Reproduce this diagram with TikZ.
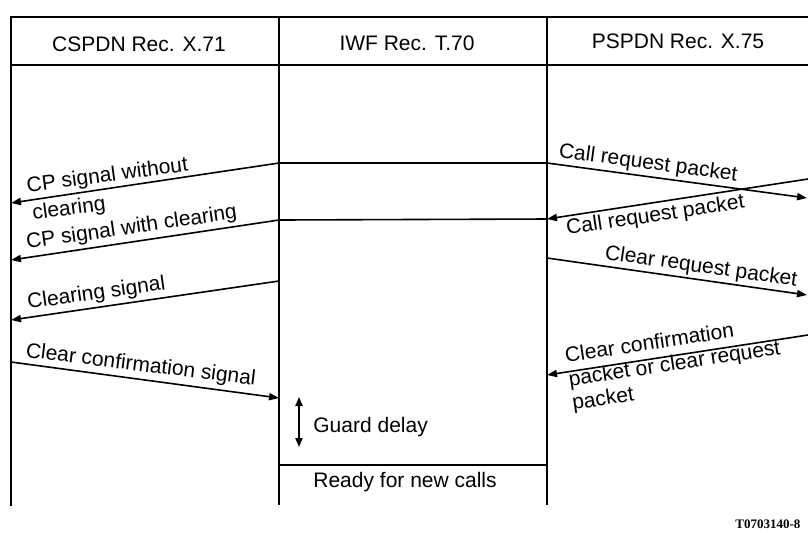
\documentclass[tikz,border=0pt]{standalone}
\usepackage{fontspec}
\setmainfont{Liberation Sans}
\newfontfamily\codefont{Liberation Serif}
\usetikzlibrary{arrows.meta}
\begin{document}
\begin{tikzpicture}[x=0.5pt,y=-0.5pt,
  frame/.style={line width=1.2pt},
  link/.style={line width=0.8pt},
  msg/.style={line width=0.8pt,-{Triangle[length=5pt,width=3.6pt]}},
  guard/.style={line width=0.8pt,{Triangle[length=4.5pt,width=3.6pt]}-{Triangle[length=4.5pt,width=3.6pt]}},
  lbl/.style={inner sep=0pt,font=\fontsize{10.5}{12}\selectfont,align=left},
  head/.style={inner sep=0pt,font=\fontsize{10.5}{12}\selectfont},
]
\useasboundingbox (0,0) rectangle (808,532);
% frame
\coordinate (TL) at (10,17);  \coordinate (TR) at (808,17);
\coordinate (HL) at (10,65);  \coordinate (HR) at (808,65);
\coordinate (Lt) at (11,17);  \coordinate (Lb) at (11,506);
\coordinate (Mt) at (279,17); \coordinate (Mb) at (279,505);
\coordinate (Rt) at (547,17); \coordinate (Rb) at (547,505);
\draw[frame] (TL) -- (TR);
\draw[frame] (HL) -- (HR);
\draw[frame] (Lt) -- (Lb);
\draw[frame] (Mt) -- (Mb);
\draw[frame] (Rt) -- (Rb);
% headers
\node[head,anchor=base] (h1) at (139,51) {CSPDN Rec. X.71};
\node[head,anchor=base] (h2) at (407,50) {IWF Rec. T.70};
\node[head,anchor=base] (h3) at (678,48) {PSPDN Rec. X.75};
% message points
\coordinate (m1) at (279,163); \coordinate (l1) at (11,203);
\coordinate (r1) at (547,163); \coordinate (e1) at (807,198);
\coordinate (e2) at (808,179); \coordinate (r2) at (547,219);
\coordinate (m2) at (279,220); \coordinate (l2) at (11,260);
\coordinate (m3) at (279,281); \coordinate (l3) at (11,320);
\coordinate (r4) at (547,258); \coordinate (e4) at (807,295);
\coordinate (l5) at (11,362);  \coordinate (m5) at (279,398);
\coordinate (e6) at (808,335); \coordinate (r6) at (547,375);
\coordinate (g1) at (299,397); \coordinate (g2) at (299,447);
\coordinate (n1) at (279,465); \coordinate (n2) at (547,465);
% connectors
\draw[msg] (m1) -- (l1);
\draw[link] (m1) -- (r1);
\draw[msg] (r1) -- (e1);
\draw[msg] (e2) -- (r2);
\draw[link] (r2) -- (m2);
\draw[msg] (m2) -- (l2);
\draw[msg] (m3) -- (l3);
\draw[msg] (r4) -- (e4);
\draw[msg] (l5) -- (m5);
\draw[msg] (e6) -- (r6);
\draw[guard] (g1) -- (g2);
\draw[frame] (n1) -- (n2);
% labels
\node[lbl,anchor=base west,rotate=7.5] (t1) at (31,220) {CP signal without\\[2pt]\hspace*{1pt}clearing};
\node[lbl,anchor=base west,rotate=8.3] (t2) at (27,249) {CP signal with clearing};
\node[lbl,anchor=base west,rotate=8] (t3) at (28,309) {Clearing signal};
\node[lbl,anchor=base west,rotate=-7] (t5) at (25,357) {Clear confirmation signal};
\node[lbl,anchor=base west,rotate=-7.6] (t6) at (558,157) {Call request packet};
\node[lbl,anchor=base west,rotate=8.6] (t7) at (567,235) {Call request packet};
\node[lbl,anchor=base west,rotate=-8] (t8) at (604,259) {Clear request packet};
\node[lbl,anchor=base west,rotate=8.6] (t9) at (573,410) {Clear confirmation\\packet or clear request\\packet};
\node[lbl,anchor=base west] (t10) at (313,432) {Guard delay};
\node[lbl,anchor=base west] (t11) at (313,487) {Ready for new calls};
\node[inner sep=0pt,anchor=base west,font=\codefont\bfseries\fontsize{6.5}{8}\selectfont] (code) at (735,528) {T0703140-8};
\end{tikzpicture}
\end{document}
